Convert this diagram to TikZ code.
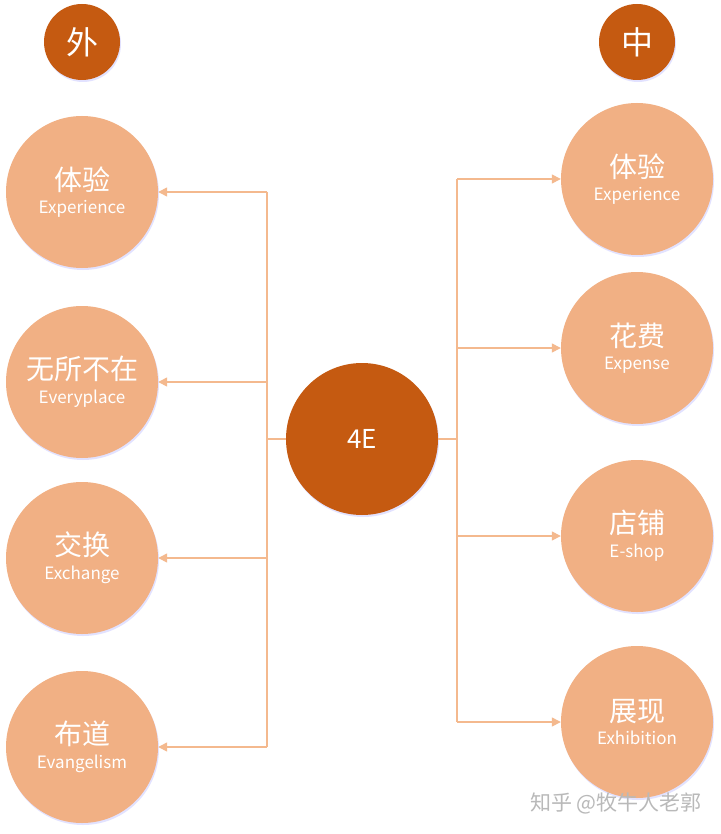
\documentclass[tikz,border=0pt]{standalone}
\usepackage{fontspec}
\setmainfont{Noto Sans CJK SC}
\usetikzlibrary{arrows.meta,calc,shadows,positioning}
\definecolor{rust}{HTML}{C55A11}
\definecolor{peach}{HTML}{F1B084}
\definecolor{wire}{HTML}{F4B98E}
\tikzset{
  bubble/.style={circle,fill=peach,text=white,minimum size=152pt,inner sep=0pt,
    align=center,drop shadow={shadow xshift=1pt,shadow yshift=-2pt,fill=blue!25,opacity=.45}},
  tag/.style={circle,fill=rust,text=white,minimum size=76pt,inner sep=0pt,
    font=\fontsize{32}{34}\selectfont,
    drop shadow={shadow xshift=1pt,shadow yshift=-2pt,fill=blue!25,opacity=.45}},
  link/.style={draw=wire,line width=1.4pt},
  arrow/.style={link,-{Triangle[length=9pt,width=9pt]}}
}
\newcommand{\zh}[1]{{\fontsize{28}{30}\selectfont #1}}
\newcommand{\en}[1]{{\fontsize{17}{19}\selectfont #1}}

\begin{document}
\begin{tikzpicture}[x=1pt,y=-1pt]
  \useasboundingbox[fill=white] (0,0) rectangle (720,834);

  % headers
  \node[tag] (wai) at (82,42) {外};
  \node[tag] (zhong) at (637,42) {中};

  % hub
  \node[bubble,fill=rust,font=\fontsize{26}{28}\selectfont] (hub) at (362,439) {4E};

  % left side
  \node[bubble] (l1) at (82,192) {\zh{体验}\\[7pt]\en{Experience}};
  \node[bubble] (l2) at (82,382) {\zh{无所不在}\\[7pt]\en{Everyplace}};
  \node[bubble] (l3) at (82,558) {\zh{交换}\\[7pt]\en{Exchange}};
  \node[bubble] (l4) at (82,747) {\zh{布道}\\[7pt]\en{Evangelism}};

  % right side
  \node[bubble] (r1) at (637,179) {\zh{体验}\\[7pt]\en{Experience}};
  \node[bubble] (r2) at (637,348) {\zh{花费}\\[7pt]\en{Expense}};
  \node[bubble] (r3) at (637,536) {\zh{店铺}\\[7pt]\en{E-shop}};
  \node[bubble] (r4) at (637,722) {\zh{展现}\\[7pt]\en{Exhibition}};

  \coordinate (lbus) at (267,439);
  \coordinate (rbus) at (457,439);

  % connectors
  \draw[link] (hub.west) -- (lbus);
  \draw[link] (lbus |- l1) -- (lbus |- l4);
  \foreach \n in {l1,l2,l3,l4}
    \draw[arrow] (lbus |- \n) -- (\n.east);

  \draw[link] (hub.east) -- (rbus);
  \draw[link] (rbus |- r1) -- (rbus |- r4);
  \foreach \n in {r1,r2,r3,r4}
    \draw[arrow] (rbus |- \n) -- (\n.west);

  % watermark
  \node[text=gray!55,font=\fontsize{21}{24}\selectfont] (mark) at (616,803) {知乎 @牧牛人老郭};
\end{tikzpicture}
\end{document}
